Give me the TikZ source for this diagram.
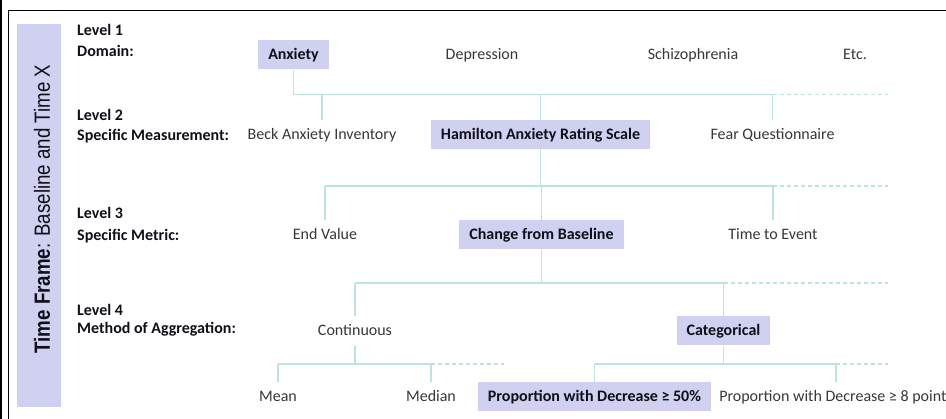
\documentclass[tikz,border=0pt]{standalone}
\usepackage{graphicx}
\usepackage{fontspec}
\setmainfont{Carlito}
\newfontfamily\arialf{Liberation Sans}
\definecolor{lav}{RGB}{208,208,240}
\definecolor{linec}{RGB}{188,226,226}
\definecolor{txtc}{RGB}{55,55,55}
\definecolor{boldc}{RGB}{15,15,25}
\begin{document}
\begin{tikzpicture}[x=1pt,y=-1pt,
  conn/.style={draw=linec, line width=1.3pt},
  connd/.style={conn, dash pattern=on 4pt off 3pt},
  item/.style={inner xsep=10pt, inner ysep=7.25pt, text height=12pt, text depth=2.5pt, font=\fontsize{16}{19}\selectfont, text=txtc},
  hl/.style={item, fill=lav, font=\fontsize{16}{19}\selectfont\bfseries, text=boldc},
  lvl/.style={anchor=base west, inner sep=0pt, font=\fontsize{16}{19}\selectfont\bfseries, text=boldc}]
\useasboundingbox (0,0) rectangle (946,419);
% frame
\draw[line width=2pt] (1,0) -- (1,419);
\draw[line width=1.2pt] (8.5,419) -- (8.5,10.5) -- (946,10.5);
% time frame bar
\node[fill=lav, minimum width=44pt, minimum height=383pt, inner sep=0pt] (bar) at (39,215.5) {};
\node[rotate=90, inner sep=0pt, font=\fontsize{22}{26}\selectfont\arialf, text=boldc] (tf) at (42,209) {\scalebox{0.85}[1]{\textbf{Time Frame}: Baseline and Time X}};
% level labels
\node[lvl] (lv1) at (77,36) {Level 1};
\node[lvl] (lv1d) at (77,57) {Domain:};
\node[lvl] (lv2) at (77,121) {Level 2};
\node[lvl] (lv2d) at (77,141) {Specific Measurement:};
\node[lvl] (lv3) at (77,219) {Level 3};
\node[lvl] (lv3d) at (77,241) {Specific Metric:};
\node[lvl] (lv4) at (77,316) {Level 4};
\node[lvl] (lv4d) at (77,334) {Method of Aggregation:};
% row 1
\node[hl] (anx) at (293.5,55) {Anxiety};
\node[item] (dep) at (482,55) {Depression};
\node[item] (sch) at (693,55) {Schizophrenia};
\node[item] (etc) at (855,55) {Etc.};
% row 2
\node[item] (beck) at (322,134.5) {Beck Anxiety Inventory};
\node[hl] (ham) at (540.5,134.5) {Hamilton Anxiety Rating Scale};
\node[item] (fear) at (772.5,134.5) {Fear Questionnaire};
% row 3
\node[item] (endv) at (325,235) {End Value};
\node[hl] (chg) at (541.5,235) {Change from Baseline};
\node[item] (tte) at (773,235) {Time to Event};
% row 4
\node[item] (cont) at (355,331) {Continuous};
\node[hl] (cat) at (723.5,331) {Categorical};
% row 5
\node[item] (mean) at (278,397) {Mean};
\node[item] (med) at (431,397) {Median};
\node[hl] (p50) at (594.5,397) {Proportion with Decrease ≥ 50\%};
\node[item] (p8) at (836,397) {Proportion with Decrease ≥ 8 points};
% bus coordinates
\coordinate (b1) at (0,94.5);
\coordinate (b1e) at (888,94.5);
\coordinate (b2) at (0,186);
\coordinate (b2e) at (888,186);
\coordinate (b3) at (0,283);
\coordinate (b3e) at (888,283);
\coordinate (b4) at (0,364);
\coordinate (b4e) at (504,364);
\coordinate (b5e) at (888,364);
% level 1 -> 2
\draw[conn] (anx.south) -- (anx.south |- b1) -- (fear.north |- b1);
\draw[conn] (beck.north) -- (beck.north |- b1);
\draw[conn] (ham.north) -- (ham.north |- b1);
\draw[conn] (fear.north) -- (fear.north |- b1);
\draw[connd] (fear.north |- b1) -- (b1e);
% level 2 -> 3
\draw[conn] (ham.south) -- (ham.south |- b2);
\draw[conn] (endv.north |- b2) -- (tte.north |- b2);
\draw[conn] (endv.north) -- (endv.north |- b2);
\draw[conn] (chg.north) -- (chg.north |- b2);
\draw[conn] (tte.north) -- (tte.north |- b2);
\draw[connd] (tte.north |- b2) -- (b2e);
% level 3 -> 4
\draw[conn] (chg.south) -- (chg.south |- b3);
\draw[conn] (cont.north |- b3) -- (cat.north |- b3);
\draw[conn] (cont.north) -- (cont.north |- b3);
\draw[conn] (cat.north) -- (cat.north |- b3);
\draw[connd] (cat.north |- b3) -- (b3e);
% level 4 -> 5 (continuous)
\draw[conn] (cont.south) -- (cont.south |- b4);
\draw[conn] (mean.north |- b4) -- (med.north |- b4);
\draw[conn] (mean.north) -- (mean.north |- b4);
\draw[conn] (med.north) -- (med.north |- b4);
\draw[connd] (med.north |- b4) -- (b4e);
% level 4 -> 5 (categorical)
\draw[conn] (cat.south) -- (cat.south |- b4);
\draw[conn] (p50.north |- b4) -- (p8.north |- b4);
\draw[conn] (p50.north) -- (p50.north |- b4);
\draw[conn] (p8.north) -- (p8.north |- b4);
\draw[connd] (p8.north |- b4) -- (b5e);
\end{tikzpicture}
\end{document}
